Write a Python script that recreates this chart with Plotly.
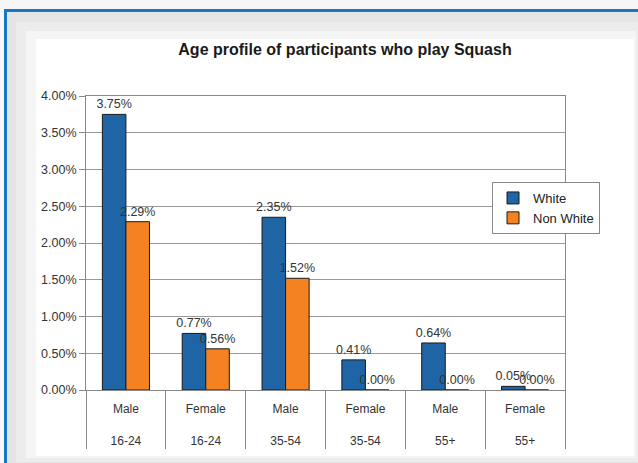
import plotly.graph_objects as go

# Chart data
sexes = ["Male", "Female", "Male", "Female", "Male", "Female"]
ages = ["16-24", "16-24", "35-54", "35-54", "55+", "55+"]
white = [3.75, 0.77, 2.35, 0.41, 0.64, 0.05]
non_white = [2.29, 0.56, 1.52, 0.00, 0.00, 0.00]

cats = [f"{s} {a}" for s, a in zip(sexes, ages)]
tick_text = [f"{s}<br><br>{a}" for s, a in zip(sexes, ages)]

W, H = 638, 463
L, R, T, B = 86, 565, 96, 390


def px_x(x):
    return (x - L) / (R - L)


def px_y(y):
    return (B - y) / (B - T)


font = "Liberation Sans, Arial, sans-serif"

fig = go.Figure()
fig.add_trace(go.Bar(
    x=cats, y=white, name="White",
    marker=dict(color="#1f65a6", line=dict(color="#1a1a1a", width=1)),
    text=[f"{v:.2f}%" for v in white], textposition="outside",
    constraintext="none",
    textfont=dict(size=12.5, color="#333333"), cliponaxis=False,
))
fig.add_trace(go.Bar(
    x=cats, y=non_white, name="Non White",
    marker=dict(color="#f58220", line=dict(color="#1a1a1a", width=1)),
    text=[f"{v:.2f}%" for v in non_white], textposition="outside",
    constraintext="none",
    textfont=dict(size=12.5, color="#333333"), cliponaxis=False,
))

# page frame: gray surround, soft inner panel, blue border on top/left
shapes = [
    dict(type="rect", xref="paper", yref="paper", layer="below",
         x0=px_x(7), x1=px_x(640), y0=px_y(470), y1=px_y(12),
         fillcolor="#e4e4e4", line=dict(width=0)),
    dict(type="rect", xref="paper", yref="paper", layer="below",
         x0=px_x(16), x1=px_x(638), y0=px_y(462), y1=px_y(22),
         fillcolor="#ececec", line=dict(width=0)),
    dict(type="rect", xref="paper", yref="paper", layer="below",
         x0=px_x(26), x1=px_x(636), y0=px_y(458), y1=px_y(31),
         fillcolor="#f5f5f5", line=dict(width=0)),
    dict(type="rect", xref="paper", yref="paper", layer="below",
         x0=px_x(36), x1=px_x(634), y0=px_y(456), y1=px_y(39),
         fillcolor="#ffffff", line=dict(width=0)),
    dict(type="line", xref="paper", yref="paper",
         x0=px_x(5.5), x1=px_x(5.5), y0=px_y(470), y1=px_y(9),
         line=dict(color="#1677c6", width=3)),
    dict(type="line", xref="paper", yref="paper",
         x0=px_x(4), x1=px_x(645), y0=px_y(10.5), y1=px_y(10.5),
         line=dict(color="#1677c6", width=3)),
]

fig.update_layout(
    width=W, height=H,
    margin=dict(l=L, r=W - R, t=T, b=H - B),
    paper_bgcolor="#f6f6f6", plot_bgcolor="#ffffff",
    font=dict(family=font, size=12.5, color="#333333"),
    title=dict(text="<b>Age profile of participants who play Squash</b>",
               x=345 / W, xanchor="center", y=1 - 49 / H, yanchor="middle",
               font=dict(size=16, color="#1a1a1a")),
    barmode="group", bargap=0.41, bargroupgap=0,
    showlegend=True,
    legend=dict(x=px_x(492), y=px_y(182), xanchor="left", yanchor="top",
                bgcolor="#ffffff", bordercolor="#888888", borderwidth=1,
                font=dict(size=13, color="#222222"), itemwidth=30),
    shapes=shapes,
)
fig.update_xaxes(
    tickvals=cats, ticktext=tick_text,
    ticks="outside", tickson="boundaries", ticklen=58, tickcolor="#888888",
    ticklabelstandoff=8,
    showline=True, linecolor="#888888", mirror=True, showgrid=False,
    tickfont=dict(size=12, color="#333333"),
)
fig.update_yaxes(
    range=[0, 4], dtick=0.5, tickformat=".2f", ticksuffix="%",
    ticks="outside", ticklen=6, tickcolor="#888888",
    showgrid=True, gridcolor="#999999", gridwidth=1,
    showline=True, linecolor="#888888", mirror=True, zeroline=False,
    tickfont=dict(size=12.5, color="#333333"),
)

fig.write_html("out.html", config={"displayModeBar": False},
               post_script="document.body.style.margin='0';")
